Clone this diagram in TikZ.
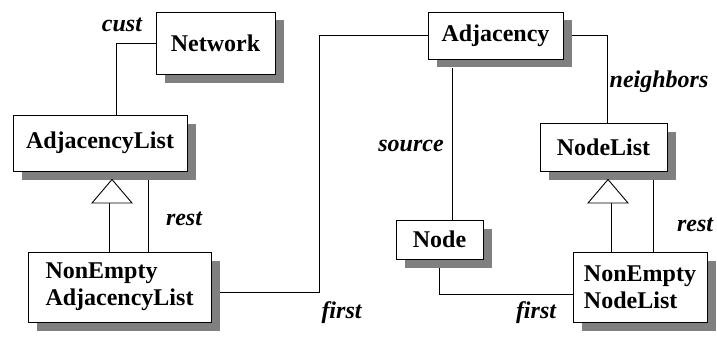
\documentclass[tikz,border=0pt]{standalone}
\usepackage{fontspec}
\setmainfont{Liberation Serif}
\begin{document}
\begin{tikzpicture}[x=1pt,y=-1pt,
  cls/.style={draw, fill=white, line width=0.9pt, inner sep=0pt,
    font=\fontsize{24}{27}\selectfont\bfseries},
  shadownode/.style={fill=gray, draw=none, inner sep=0pt},
  role/.style={anchor=base, inner sep=0pt, font=\fontsize{24}{27}\selectfont\bfseries\itshape},
  conn/.style={line width=0.9pt},
  gen/.style={draw, fill=white, line width=0.9pt, line join=miter}]
\fill[white] (0,0) rectangle (717,337);

% shadows
\node[shadownode, minimum width=119pt, minimum height=62pt] (snet) at (224,51.5) {};
\node[shadownode, minimum width=174pt, minimum height=56pt] (sadjlist) at (108.5,151.5) {};
\node[shadownode, minimum width=183pt, minimum height=70pt] (sneal) at (128,295.5) {};
\node[shadownode, minimum width=135pt, minimum height=47pt] (sadj) at (504,44) {};
\node[shadownode, minimum width=127pt, minimum height=48pt] (snodelist) at (612,155.5) {};
\node[shadownode, minimum width=87pt, minimum height=39pt] (snode) at (448,248) {};
\node[shadownode, minimum width=134pt, minimum height=70pt] (snenl) at (648.5,295.5) {};

% classes
\node[cls, minimum width=119pt, minimum height=62pt] (net) at (215.5,43) {Network};
\node[cls, minimum width=174pt, minimum height=56pt] (adjlist) at (100,143) {AdjacencyList};
\node[cls, minimum width=183pt, minimum height=70pt, align=left] (neal) at (119.5,287) {NonEmpty\\AdjacencyList};
\node[cls, minimum width=135pt, minimum height=47pt] (adj) at (495.5,35.5) {Adjacency};
\node[cls, minimum width=127pt, minimum height=48pt] (nodelist) at (603.5,147) {NodeList};
\node[cls, minimum width=87pt, minimum height=39pt] (node) at (439.5,239.5) {Node};
\node[cls, minimum width=134pt, minimum height=70pt, align=left] (nenl) at (640,287) {NonEmpty\\NodeList};

% connectors (they leave a box through its shadow's edge)
\draw[conn] (net.west) -| ([xshift=16pt]adjlist.north);
\coordinate (ne1) at ([yshift=-5pt]neal.east);
\draw[conn] (adj.west) -- ++(-108,0) |- (ne1 -| sneal.east);
\coordinate (ns) at ([xshift=12.5pt]node.north);
\draw[conn] (ns) -- (ns |- sadj.south);
\draw[conn] (sadj.east |- adj.east) -| ([xshift=3.5pt]nodelist.north);
\draw[conn] (node.south |- snode.south) |- ([yshift=-7pt]nenl.west);
\coordinate (r1) at ([xshift=48pt]adjlist.south);
\draw[conn] (r1 |- sadjlist.south) -- (r1 |- neal.north);
\coordinate (r2) at ([xshift=49.5pt]nodelist.south);
\draw[conn] (r2 |- snodelist.south) -- (r2 |- nenl.north);

% generalisation triangles
\coordinate (t1) at (112,179.5);
\coordinate (b1) at (109,203);
\draw[conn] (b1) -- (b1 |- neal.north);
\draw[gen] (t1) -- (132,203) -- (92,203) -- cycle;

\coordinate (t2) at (608,179.5);
\coordinate (b2) at (611,203);
\draw[conn] (b2) -- (b2 |- nenl.north);
\draw[gen] (t2) -- (628,203) -- (588,203) -- cycle;

% role labels
\node[role] (lcust) at (122,32) {cust};
\node[role] (lrest1) at (184,225) {rest};
\node[role] (lfirst1) at (341.5,318) {first};
\node[role] (lsource) at (411,151) {source};
\node[role] (lneigh) at (659,87) {neighbors};
\node[role] (lrest2) at (695,231) {rest};
\node[role] (lfirst2) at (536,318) {first};
\end{tikzpicture}
\end{document}
